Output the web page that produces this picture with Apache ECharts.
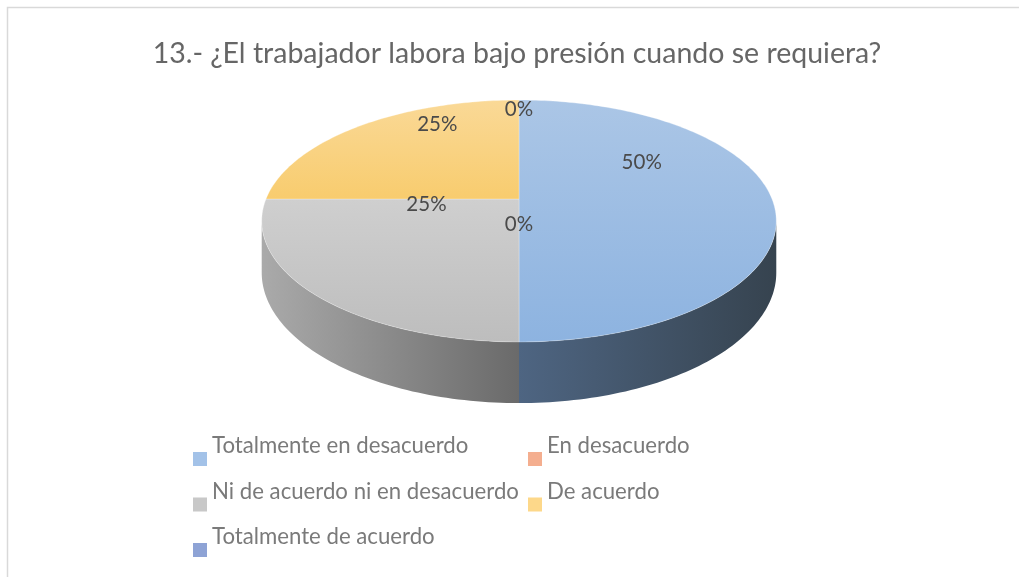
<!DOCTYPE html>
<html lang="es">
<head>
    <meta charset="utf-8">
    <title>pregunta13</title>
    <script src="https://cdn.jsdelivr.net/npm/echarts@6/dist/echarts.min.js"></script>
    <style>
        html, body { margin: 0; padding: 0; background: #fff; }
        #main { width: 1019px; height: 577px; }
    </style>
</head>
<body>
<div id="main"></div>
<script>
    // datos del grafico
    var titulo = '13.- ¿El trabajador labora bajo presión cuando se requiera?';
    var categorias = ['Totalmente en desacuerdo', 'En desacuerdo', 'Ni de acuerdo ni en desacuerdo', 'De acuerdo', 'Totalmente de acuerdo'];
    var valores = [50, 0, 25, 25, 0];

    // estilos (colores de leyenda, cara superior y lateral)
    var colLeyenda = ['#a3c2e8', '#f4ae8f', '#c8c8c8', '#fdd88a', '#8ea3d5'];
    var colArriba = [['#abc6e6', '#8db3e0'], ['#f6b89a', '#f2a27e'], ['#cfcfcf', '#bdbdbd'], ['#fad997', '#f8cc6e'], ['#9fb1dc', '#8599cf']];
    var colLado = [['#4e6582', '#36434f'], ['#a2624a', '#7a4634'], ['#aaaaaa', '#6a6a6a'], ['#a98a45', '#7d6530'], ['#56688f', '#3c4a6a']];

    var myChart = echarts.init(document.getElementById('main'));

    var total = valores.reduce(function (a, b) { return a + b; }, 0);

    // proyeccion en perspectiva del disco (centro en 519,199)
    var cx = 519, cy = 199, ax = 253, by = -80.8, pe = 0.1818, prof = 50;

    function proyectar(u, v, h) {
        var d = 1 + pe * v;
        return [cx + ax * u / d, (by * v + cy + (h || 0)) / d];
    }

    function punto(phi, r, h) {
        return proyectar(r * Math.sin(phi), r * Math.cos(phi), h);
    }

    function angulos(i) {
        var acum = 0;
        for (var k = 0; k < i; k++) acum += valores[k];
        return [acum / total * Math.PI * 2, (acum + valores[i]) / total * Math.PI * 2];
    }

    function arco(a0, a1, h) {
        var pts = [];
        var n = Math.max(2, Math.ceil((a1 - a0) / 0.02));
        for (var s = 0; s <= n; s++) pts.push(punto(a0 + (a1 - a0) * s / n, 1, h));
        return pts;
    }

    // limites visibles de la cara lateral (puntos tangentes)
    var latIni = Math.acos(-pe), latFin = Math.PI * 2 - Math.acos(-pe);

    function renderSector(i) {
        return function (params, api) {
            var ang = angulos(i);
            var hijos = [];
            if (valores[i] <= 0) return { type: 'group', children: [] };
            var l0 = Math.max(ang[0], latIni), l1 = Math.min(ang[1], latFin);
            if (l1 > l0) {
                var sup = arco(l0, l1, 0);
                var inf = arco(l0, l1, prof).reverse();
                hijos.push({
                    type: 'polygon',
                    shape: { points: sup.concat(inf) },
                    style: {
                        fill: new echarts.graphic.LinearGradient(0, 0, 1, 0, [
                            { offset: 0, color: colLado[i][0] },
                            { offset: 1, color: colLado[i][1] }
                        ])
                    }
                });
            }
            var pts = [[cx, cy]].concat(arco(ang[0], ang[1], 0));
            hijos.push({
                type: 'polygon',
                shape: { points: pts },
                style: {
                    fill: new echarts.graphic.LinearGradient(0, 0, 0, 1, [
                        { offset: 0, color: colArriba[i][0] },
                        { offset: 1, color: colArriba[i][1] }
                    ]),
                    stroke: 'rgba(255,255,255,0.35)',
                    lineWidth: 0.8
                }
            });
            return { type: 'group', children: hijos };
        };
    }

    var series = categorias.map(function (nombre, i) {
        return {
            name: nombre,
            type: 'custom',
            coordinateSystem: 'none',
            silent: true,
            itemStyle: { color: colLeyenda[i] },
            data: [[valores[i]]],
            renderItem: renderSector(i)
        };
    });

    // etiquetas de porcentaje
    series.push({
        name: 'etiquetas',
        type: 'custom',
        coordinateSystem: 'none',
        silent: true,
        z: 10,
        data: valores.map(function (v, i) { return [i, v]; }),
        renderItem: function (params, api) {
            var i = params.dataIndex;
            var ang = angulos(i);
            var p = punto((ang[0] + ang[1]) / 2, 0.485, 0);
            return {
                type: 'text',
                x: p[0],
                y: p[1] - 37,
                style: {
                    text: Math.round(valores[i] / total * 100) + '%',
                    fill: '#4a4a4a',
                    font: '20.5px Lato',
                    align: 'center',
                    verticalAlign: 'middle'
                }
            };
        }
    });

    var estiloLeyenda = {
        icon: 'path://M0,0L0.01,0L0.01,0.01ZM0,26L14,26L14,40L0,40Z',
        itemWidth: 14,
        itemHeight: 40,
        orient: 'vertical',
        itemGap: 5.5,
        padding: 0,
        selectedMode: false,
        itemStyle: { borderWidth: 0 },
        textStyle: { fontFamily: 'Lato', fontSize: 22.2, color: '#7a7a7a' }
    };

    var option = {
        backgroundColor: '#fff',
        animation: false,
        title: {
            text: titulo,
            left: 512,
            textAlign: 'center',
            top: 34,
            textStyle: { fontFamily: 'Lato', fontSize: 28.5, fontWeight: 'normal', color: '#666' }
        },
        legend: [
            Object.assign({}, estiloLeyenda, { left: 193, top: 426, data: [categorias[0], categorias[2], categorias[4]] }),
            Object.assign({}, estiloLeyenda, { left: 528, top: 426, data: [categorias[1], categorias[3]] })
        ],
        graphic: [{
            type: 'rect',
            shape: { x: 7.5, y: 7.5, width: 1100, height: 700 },
            style: { fill: 'none', stroke: '#d9d9d9', lineWidth: 1.5 },
            silent: true
        }],
        series: series
    };

    myChart.setOption(option);
</script>
</body>
</html>
